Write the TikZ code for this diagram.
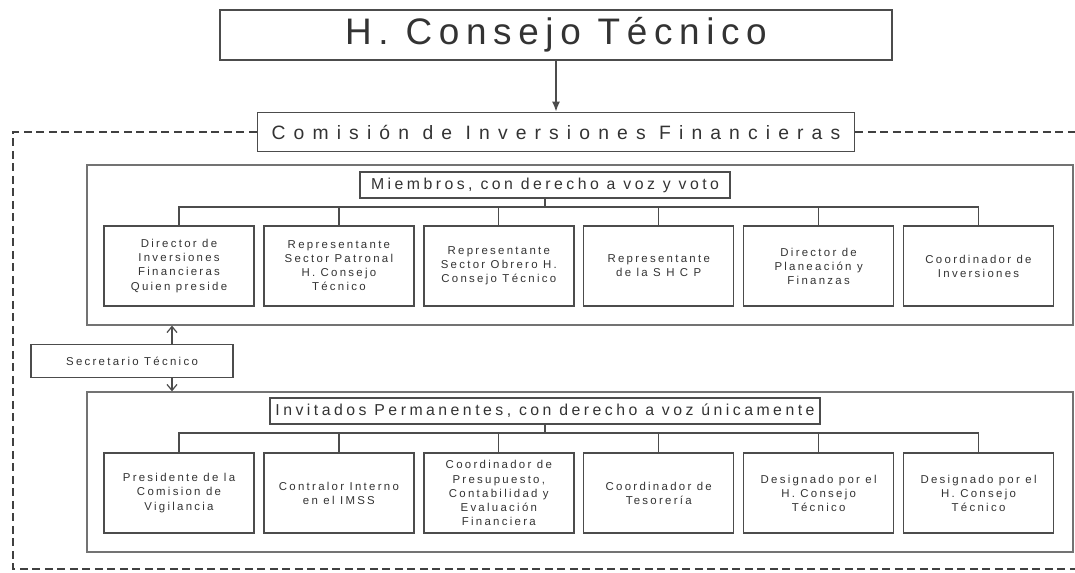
\documentclass[tikz,border=0pt]{standalone}
\usepackage{fontspec}
\setmainfont{Liberation Sans}
\newfontfamily\boxfont[LetterSpace=20]{Liberation Sans}
\newfontfamily\headfont[LetterSpace=22]{Liberation Sans}
\newfontfamily\comfont[LetterSpace=42]{Liberation Sans}
\newfontfamily\titlefont[LetterSpace=18]{Liberation Sans}
\usepackage{tikz}
\usetikzlibrary{positioning,arrows.meta}

\begin{document}
\begin{tikzpicture}[x=0.2mm, y=-0.2mm, text=black!80,
	cbox/.style={draw=black!70, line width=0.8pt, minimum width=30mm, minimum height=16mm, align=center, inner sep=1pt, font=\boxfont\fontsize{6.5}{8}\selectfont},
	panel/.style={draw=black!55, line width=0.7pt, minimum width=197.2mm, minimum height=32mm},
	hdr/.style={draw=black!70, line width=0.8pt, minimum height=5.2mm, inner sep=2pt, font=\headfont\fontsize{9}{10}\selectfont},
	link/.style={draw=black!70, line width=0.7pt},
	dashframe/.style={draw=black!75, line width=1.1pt, dash pattern=on 1.6mm off 0.9mm}]
	\useasboundingbox (0,0) rectangle (1075,572);
	\node[draw=black!70, line width=0.9pt, minimum width=134.4mm, minimum height=10mm, font=\titlefont\fontsize{21}{24}\selectfont] (consejo) at (556,35) {H. Consejo Técnico};
	\node[draw=black!70, line width=0.9pt, minimum width=119.4mm, minimum height=7.8mm, font=\comfont\fontsize{11}{12}\selectfont] (comision) at (556,132) {Comisión de Inversiones Financieras};
	\draw[link, line width=1pt, -{Latex[length=2mm, width=1.6mm]}] (consejo) -- (comision);
	\draw[dashframe] (comision.west) -- (13,132) -- (13,569) -- (1075,569);
	\draw[dashframe] (comision.east) -- (1075,132);

	\node[panel] (mpanel) at (580,245) {};
	\node[hdr, minimum width=74mm] (mhead) at (545,185) {Miembros, con derecho a voz y voto};
	\node[cbox] (m1) at (179,266) {Director de\\Inversiones\\Financieras\\Quien preside};
	\node[cbox, right=1.7mm of m1] (m2) {Representante\\Sector Patronal\\H. Consejo\\Técnico};
	\node[cbox, right=1.7mm of m2] (m3) {Representante\\Sector Obrero H.\\Consejo Técnico};
	\node[cbox, right=1.7mm of m3] (m4) {Representante\\de la S H C P};
	\node[cbox, right=1.7mm of m4] (m5) {Director de\\Planeación y\\Finanzas};
	\node[cbox, right=1.7mm of m5] (m6) {Coordinador de\\Inversiones};
	\coordinate (mbus) at (545,207);
	\draw[link] (mhead) -- (mbus);
	\draw[link] (m1.north) -- (m1.north |- mbus) -- (m6.north |- mbus) -- (m6.north);
	\draw[link] (m2.north) -- (m2.north |- mbus);
	\draw[link] (m3.north) -- (m3.north |- mbus);
	\draw[link] (m4.north) -- (m4.north |- mbus);
	\draw[link] (m5.north) -- (m5.north |- mbus);

	\node[draw=black!70, line width=0.8pt, minimum width=40.4mm, minimum height=6.6mm, font=\boxfont\fontsize{6.5}{8}\selectfont] (secretario) at (132,361) {Secretario Técnico};
	\coordinate (sline) at (172,361);

	\node[panel] (ipanel) at (580,472) {};
	\node[hdr, minimum width=110mm] (ihead) at (545,411) {Invitados Permanentes, con derecho a voz únicamente};
	\node[cbox] (i1) at (179,493) {Presidente de la\\Comision de\\Vigilancia};
	\node[cbox, right=1.7mm of i1] (i2) {Contralor Interno\\en el IMSS};
	\node[cbox, right=1.7mm of i2] (i3) {Coordinador de\\Presupuesto,\\Contabilidad y\\Evaluación\\Financiera};
	\node[cbox, right=1.7mm of i3] (i4) {Coordinador de\\Tesorería};
	\node[cbox, right=1.7mm of i4] (i5) {Designado por el\\H. Consejo\\Técnico};
	\node[cbox, right=1.7mm of i5] (i6) {Designado por el\\H. Consejo\\Técnico};
	\coordinate (ibus) at (545,433);
	\draw[link] (ihead) -- (ibus);
	\draw[link] (i1.north) -- (i1.north |- ibus) -- (i6.north |- ibus) -- (i6.north);
	\draw[link] (i2.north) -- (i2.north |- ibus);
	\draw[link] (i3.north) -- (i3.north |- ibus);
	\draw[link] (i4.north) -- (i4.north |- ibus);
	\draw[link] (i5.north) -- (i5.north |- ibus);

	\draw[link, -{Straight Barb[length=1.2mm, width=2mm]}] (sline |- secretario.north) -- (sline |- mpanel.south);
	\draw[link, -{Straight Barb[length=1.2mm, width=2mm]}] (sline |- secretario.south) -- (sline |- ipanel.north);
\end{tikzpicture}
\end{document}
